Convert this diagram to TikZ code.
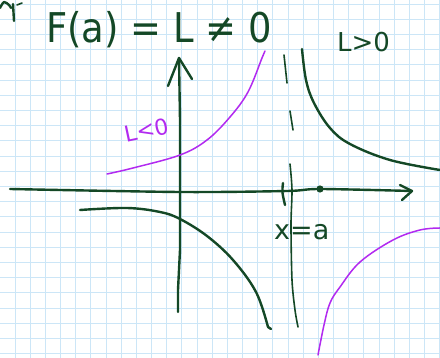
\documentclass[tikz,border=0pt]{standalone}
\usepackage{fontspec}
\setmainfont{DejaVu Sans}
\definecolor{ink}{RGB}{20,72,38}
\definecolor{pur}{RGB}{178,42,240}
\definecolor{gridc}{RGB}{204,230,247}
\tikzset{
  gridline/.style={gridc, line width=0.9pt},
  inkline/.style={ink, line width=2.4pt, line cap=round, line join=round},
  inkthin/.style={ink, line width=1.6pt, line cap=round, line join=round},
  purline/.style={pur, line width=1.5pt, line cap=round, line join=round},
  inktext/.style={ink, inner sep=0pt, anchor=base west},
}
\begin{document}
\begin{tikzpicture}[x=1pt,y=-1pt]
\useasboundingbox (0,0) rectangle (440,358);
\fill[white] (0,0) rectangle (440,358);
% grid paper
\foreach \i in {0,...,28} {\draw[gridline] ({15+15.17*\i},0) -- ({15+15.17*\i},358);}
\foreach \j in {0,...,23} {\draw[gridline] (0,{4+15.2*\j}) -- (440,{4+15.2*\j});}
% cut-off fragment at top left
\draw[inkline] plot[smooth] coordinates {(0,8) (4,2) (9,5) (11,8)};
\draw[inkline] (13,4) -- (14,21);
\draw[inkthin] (17,5) -- (22,3);
% title
\node[inktext, font=\fontsize{41}{41}\selectfont, xscale=0.9] (title) at (46,43) {F(a) = L ≠ 0};
\node[inktext, font=\fontsize{26}{26}\selectfont] (lpos) at (337,52) {L>0};
\node[pur, inner sep=0pt, font=\fontsize{22}{22}\selectfont, rotate=12] (lneg) at (147,130) {L<0};
\node[inktext, font=\fontsize{27}{27}\selectfont] (xa) at (274,240) {x=a};
% axes
\coordinate (ytop) at (179,58);
\coordinate (ybot) at (178,312);
\coordinate (xl) at (10,189);
\coordinate (xr) at (412,191);
\draw[inkline] (ytop) -- (180,120) -- (180,250) -- (178,290) -- (ybot);
\draw[inkline] (168,86) -- (ytop) -- (192,79);
\draw[inkline] plot[smooth] coordinates {(xl) (180,192) (287,191) (320,189) (xr)};
\draw[inkline] (400,185) -- (xr) -- (402,200);
% tick and point
\draw[inkline] (283,183) .. controls (282,192) .. (285,205);
\fill[ink] (320,189) circle (3.6);
% asymptote x = a
\draw[inkthin] (284,55) -- (287,83);
\draw[inkthin] (290,111) -- (293,130);
\draw[inkthin] plot[smooth] coordinates {(290,164) (292,190) (291,225) (292,280) (295,310) (298,327)};
% dark green branches
\draw[inkline] plot[smooth, tension=0.6] coordinates {(302,49) (306,80) (314,103) (330,128) (350,144) (390,160) (440,170)};
\draw[inkline] plot[smooth, tension=0.6] coordinates {(80,210) (127,208) (160,212) (180,219) (207,236) (233,260) (256,292) (268,327)};
\draw[inkline] (268,327) -- (271,329);
% purple branches
\draw[purline] plot[smooth, tension=0.6] coordinates {(107,174) (133,168) (180,155) (207,140) (230,117) (248,92) (262,58) (265,51)};
\draw[purline] plot[smooth, tension=0.6] coordinates {(318,355) (324,325) (330,303) (340,287) (360,262) (393,240) (420,230) (440,228)};
\end{tikzpicture}
\end{document}
